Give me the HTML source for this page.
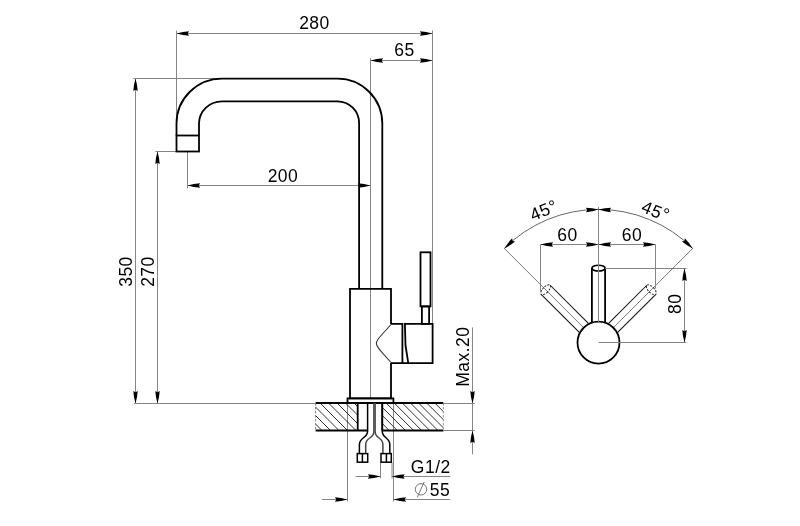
<!DOCTYPE html>
<html><head><meta charset="utf-8"><style>
html,body{margin:0;padding:0;background:#fff;width:800px;height:526px;overflow:hidden;}
svg{display:block;will-change:transform;}
text{font-family:"Liberation Sans",sans-serif;fill:#000;letter-spacing:0.5px;stroke:none;}
</style></head><body>
<svg width="800" height="526" viewBox="0 0 800 526">
<rect x="0" y="0" width="800" height="526" fill="#fff"/>
<line x1="176.5" y1="33.5" x2="432.5" y2="33.5" stroke="#858585" stroke-width="1.0"/>
<path d="M176.5,33.5 Q183,31.6 189.1,31.3 L187.7,33.5 L189.1,35.7 Q183,35.4 176.5,33.5Z" fill="#000" stroke="none"/>
<path d="M432.5,33.5 Q426,35.4 419.9,35.7 L421.3,33.5 L419.9,31.3 Q426,31.6 432.5,33.5Z" fill="#000" stroke="none"/>
<line x1="176.5" y1="30.8" x2="176.5" y2="123.5" stroke="#858585" stroke-width="1.0"/>
<line x1="432.5" y1="30.5" x2="432.5" y2="323.9" stroke="#858585" stroke-width="1.0"/>
<text x="314.5" y="28.8" font-size="17.5" text-anchor="middle">280</text>
<line x1="370.5" y1="60.5" x2="432.5" y2="60.5" stroke="#858585" stroke-width="1.0"/>
<path d="M370.5,60.5 Q377,58.6 383.1,58.3 L381.7,60.5 L383.1,62.7 Q377,62.4 370.5,60.5Z" fill="#000" stroke="none"/>
<path d="M432.5,60.5 Q426,62.4 419.9,62.7 L421.3,60.5 L419.9,58.3 Q426,58.6 432.5,60.5Z" fill="#000" stroke="none"/>
<line x1="370.5" y1="58.2" x2="370.5" y2="398.4" stroke="#858585" stroke-width="1.0"/>
<text x="404.4" y="56.3" font-size="17.5" text-anchor="middle">65</text>
<line x1="135.5" y1="78.5" x2="135.5" y2="403.5" stroke="#858585" stroke-width="1.0"/>
<path d="M135.5,78.5 Q137.4,85 137.7,91.1 L135.5,89.7 L133.3,91.1 Q133.6,85 135.5,78.5Z" fill="#000" stroke="none"/>
<path d="M135.5,403.5 Q133.6,397 133.3,390.9 L135.5,392.3 L137.7,390.9 Q137.4,397 135.5,403.5Z" fill="#000" stroke="none"/>
<line x1="133.5" y1="78.5" x2="222" y2="78.5" stroke="#858585" stroke-width="1.0"/>
<text x="131.9" y="271.5" font-size="17.5" text-anchor="middle" transform="rotate(-90 131.9 271.5)">350</text>
<line x1="157.5" y1="151.5" x2="157.5" y2="403.5" stroke="#858585" stroke-width="1.0"/>
<path d="M157.5,151.5 Q159.4,158 159.7,164.1 L157.5,162.7 L155.3,164.1 Q155.6,158 157.5,151.5Z" fill="#000" stroke="none"/>
<path d="M157.5,403.5 Q155.6,397 155.3,390.9 L157.5,392.3 L159.7,390.9 Q159.4,397 157.5,403.5Z" fill="#000" stroke="none"/>
<line x1="155.5" y1="151.5" x2="187.5" y2="151.5" stroke="#858585" stroke-width="1.0"/>
<text x="153.8" y="271.5" font-size="17.5" text-anchor="middle" transform="rotate(-90 153.8 271.5)">270</text>
<line x1="187.5" y1="185.5" x2="370.5" y2="185.5" stroke="#858585" stroke-width="1.0"/>
<path d="M187.5,185.5 Q194,183.6 200.1,183.3 L198.7,185.5 L200.1,187.7 Q194,187.4 187.5,185.5Z" fill="#000" stroke="none"/>
<path d="M370.5,185.5 Q364,187.4 357.9,187.7 L359.3,185.5 L357.9,183.3 Q364,183.6 370.5,185.5Z" fill="#000" stroke="none"/>
<line x1="187.5" y1="151.5" x2="187.5" y2="188.5" stroke="#858585" stroke-width="1.0"/>
<text x="283" y="182.2" font-size="17.5" text-anchor="middle">200</text>
<line x1="134" y1="403.5" x2="315.6" y2="403.5" stroke="#858585" stroke-width="1.0"/>
<line x1="443.3" y1="403.5" x2="474.6" y2="403.5" stroke="#858585" stroke-width="1.0"/>
<line x1="443.3" y1="430.5" x2="474.6" y2="430.5" stroke="#858585" stroke-width="1.0"/>
<line x1="472.5" y1="327.4" x2="472.5" y2="454.3" stroke="#858585" stroke-width="1.0"/>
<path d="M472.5,403.5 Q470.6,397 470.3,390.9 L472.5,392.3 L474.7,390.9 Q474.4,397 472.5,403.5Z" fill="#000" stroke="none"/>
<path d="M472.5,430.5 Q474.4,437 474.7,443.1 L472.5,441.7 L470.3,443.1 Q470.6,437 472.5,430.5Z" fill="#000" stroke="none"/>
<text x="469.3" y="356.6" font-size="17.5" text-anchor="middle" transform="rotate(-90 469.3 356.6)">Max.20</text>
<line x1="347.5" y1="398.4" x2="347.5" y2="501.5" stroke="#858585" stroke-width="1.0"/>
<line x1="393.5" y1="398.4" x2="393.5" y2="501.5" stroke="#858585" stroke-width="1.0"/>
<line x1="380.5" y1="462.5" x2="380.5" y2="478.5" stroke="#858585" stroke-width="1.0"/>
<line x1="392" y1="462.5" x2="392" y2="478.5" stroke="#858585" stroke-width="1.0"/>
<line x1="355.6" y1="476.5" x2="380.5" y2="476.5" stroke="#858585" stroke-width="1.0"/>
<path d="M380.5,476.5 Q374,478.4 367.9,478.7 L369.3,476.5 L367.9,474.3 Q374,474.6 380.5,476.5Z" fill="#000" stroke="none"/>
<line x1="392" y1="476.5" x2="450.2" y2="476.5" stroke="#858585" stroke-width="1.0"/>
<path d="M392,476.5 Q398.5,474.6 404.6,474.3 L403.2,476.5 L404.6,478.7 Q398.5,478.4 392,476.5Z" fill="#000" stroke="none"/>
<text x="450.8" y="472.6" font-size="17.5" text-anchor="end">G1/2</text>
<line x1="322" y1="499.5" x2="347.5" y2="499.5" stroke="#858585" stroke-width="1.0"/>
<path d="M347.5,499.5 Q341,501.4 334.9,501.7 L336.3,499.5 L334.9,497.3 Q341,497.6 347.5,499.5Z" fill="#000" stroke="none"/>
<line x1="393.5" y1="499.5" x2="450.2" y2="499.5" stroke="#858585" stroke-width="1.0"/>
<path d="M393.5,499.5 Q400,497.6 406.1,497.3 L404.7,499.5 L406.1,501.7 Q400,501.4 393.5,499.5Z" fill="#000" stroke="none"/>
<text x="450.3" y="495.6" font-size="17.5" text-anchor="end">55</text>
<circle cx="421" cy="489.3" r="5.7" stroke="#555" stroke-width="0.8" fill="none"/>
<line x1="424.2" y1="481.8" x2="417.3" y2="497.3" stroke="#555" stroke-width="0.8"/>
<path d="M176.5,135.5 V123.5 A45.5,45 0 0 1 222,78.6 H337.5 A44.8,45 0 0 1 382.3,123.5 V288.8" stroke="#000" stroke-width="1.8" fill="none"/>
<path d="M199,135.5 V123.5 A23,22.2 0 0 1 222,101.3 H337.5 A21.6,22 0 0 1 359.1,123.3 V288.8" stroke="#000" stroke-width="1.8" fill="none"/>
<rect x="176.5" y="135.5" width="22.5" height="16" stroke="#000" stroke-width="1.8" fill="none"/>
<path d="M391,323.9 V288.8 H350 V398.4 H391 V363.1" stroke="#000" stroke-width="1.8" fill="none"/>
<rect x="347.5" y="398.4" width="45.9" height="4.6" stroke="#000" stroke-width="1.8" fill="none"/>
<path d="M391,323.9 H402.4 V363.1 H391" stroke="#000" stroke-width="1.8" fill="none"/>
<path d="M404.9,323.9 H432.6 V363.1 H408.3 L405.5,345.5 Z" stroke="#000" stroke-width="1.8" fill="none"/>
<line x1="402.4" y1="363.1" x2="408.3" y2="363.1" stroke="#000" stroke-width="1.8"/>
<path d="M391,324.5 L380.2,336.5 C377.2,340 376.4,342 376.4,343.3 C376.4,344.8 377.2,346.8 380.2,350.3 L391,362.5" stroke="#333" stroke-width="1.1" fill="none"/>
<rect x="420.5" y="252.3" width="10" height="54.1" stroke="#000" stroke-width="1.8" fill="none"/>
<rect x="421.9" y="306.4" width="7.2" height="17.5" stroke="#000" stroke-width="1.8" fill="none"/>
<clipPath id="hl"><rect x="315.6" y="403" width="42.1" height="27.5"/></clipPath>
<clipPath id="hr"><rect x="382.5" y="403" width="60.8" height="27.5"/></clipPath>
<path clip-path="url(#hl)" d="M269,403 L299,433 M277.5,403 L307.5,433 M286,403 L316,433 M294.5,403 L324.5,433 M303,403 L333,433 M311.5,403 L341.5,433 M320,403 L350,433 M328.5,403 L358.5,433 M337,403 L367,433 M345.5,403 L375.5,433 M354,403 L384,433 M362.5,403 L392.5,433" stroke="#1a1a1a" stroke-width="0.9" fill="none"/>
<path clip-path="url(#hr)" d="M345.48,403 L375.48,433 M353.6,403 L383.6,433 M361.72,403 L391.72,433 M369.84,403 L399.84,433 M377.96,403 L407.96,433 M386.08,403 L416.08,433 M394.2,403 L424.2,433 M402.32,403 L432.32,433 M410.44,403 L440.44,433 M418.56,403 L448.56,433 M426.68,403 L456.68,433 M434.8,403 L464.8,433 M442.92,403 L472.92,433 M451.04,403 L481.04,433" stroke="#1a1a1a" stroke-width="0.9" fill="none"/>
<line x1="315.6" y1="403" x2="443.3" y2="403" stroke="#000" stroke-width="1.8"/>
<line x1="315.6" y1="430.5" x2="367.6" y2="430.5" stroke="#000" stroke-width="1.8"/>
<line x1="382" y1="430.5" x2="443.3" y2="430.5" stroke="#000" stroke-width="1.8"/>
<line x1="357.7" y1="403" x2="357.7" y2="430.5" stroke="#000" stroke-width="1.8"/>
<line x1="382.3" y1="403" x2="382.3" y2="430.5" stroke="#000" stroke-width="1.8"/>
<line x1="315.6" y1="403" x2="315.6" y2="430.5" stroke="#777" stroke-width="0.9" stroke-dasharray="2.5 1.5"/>
<line x1="443.3" y1="403" x2="443.3" y2="430.5" stroke="#888" stroke-width="0.9" stroke-dasharray="2.5 1.5"/>
<path d="M367.6,403 V431 C367.6,438.5 359.4,437 359.4,444.5 V453.5" stroke="#000" stroke-width="1.5" fill="none"/>
<path d="M373.9,403 V431.5 C373.9,439 365.7,437 365.7,444.5 V453.5" stroke="#444" stroke-width="1.5" fill="none"/>
<path d="M375.1,403 V431.5 C375.1,439 382.9,437 382.9,444.5 V453.5" stroke="#444" stroke-width="1.5" fill="none"/>
<path d="M382.2,403 V431 C382.2,438.5 389.8,437 389.8,444.5 V453.5" stroke="#000" stroke-width="1.5" fill="none"/>
<rect x="357.3" y="453.6" width="10.4" height="8.6" stroke="#000" stroke-width="1.5" fill="none"/>
<line x1="362.4" y1="453.6" x2="362.4" y2="462.2" stroke="#000" stroke-width="1.5"/>
<rect x="381" y="453.6" width="10.3" height="8.6" stroke="#000" stroke-width="1.5" fill="none"/>
<line x1="386.4" y1="453.6" x2="386.4" y2="462.2" stroke="#000" stroke-width="1.5"/>
<circle cx="598.5" cy="342.6" r="21" stroke="#000" stroke-width="1.8" fill="none"/>
<line x1="591.9" y1="268.1" x2="591.9" y2="322.66" stroke="#000" stroke-width="1.8"/>
<line x1="605.1" y1="268.1" x2="605.1" y2="322.66" stroke="#000" stroke-width="1.8"/>
<ellipse cx="598.5" cy="268.1" rx="6.6" ry="2.9" stroke="#000" stroke-width="1.6" fill="none"/>
<line x1="598.5" y1="207" x2="598.5" y2="322.66" stroke="#858585" stroke-width="1.0"/>
<line x1="598.5" y1="342.5" x2="686.5" y2="342.5" stroke="#858585" stroke-width="1.0"/>
<line x1="605" y1="268.5" x2="686.5" y2="268.5" stroke="#858585" stroke-width="1.0"/>
<line x1="684.5" y1="268.5" x2="684.5" y2="342.5" stroke="#858585" stroke-width="1.0"/>
<path d="M684.5,268.5 Q686.4,275 686.7,281.1 L684.5,279.7 L682.3,281.1 Q682.6,275 684.5,268.5Z" fill="#000" stroke="none"/>
<path d="M684.5,342.5 Q682.6,336 682.3,329.9 L684.5,331.3 L686.7,329.9 Q686.4,336 684.5,342.5Z" fill="#000" stroke="none"/>
<text x="680.7" y="303.75" font-size="17.5" text-anchor="middle" transform="rotate(-90 680.7 303.75)">80</text>
<line x1="579.83" y1="332.98" x2="541.15" y2="294.3" stroke="#111" stroke-width="1.05"/>
<line x1="588.88" y1="323.93" x2="550.2" y2="285.25" stroke="#111" stroke-width="1.05"/>
<line x1="582.94" y1="327.04" x2="504.1" y2="248.2" stroke="#555" stroke-width="0.8"/>
<ellipse cx="545.68" cy="289.78" rx="2.9" ry="6.4" transform="rotate(45 545.68 289.78)" stroke="#222" stroke-width="0.95" fill="none" stroke-dasharray="2 1.2"/>
<line x1="608.12" y1="323.93" x2="646.8" y2="285.25" stroke="#111" stroke-width="1.05"/>
<line x1="617.17" y1="332.98" x2="655.85" y2="294.3" stroke="#111" stroke-width="1.05"/>
<line x1="614.06" y1="327.04" x2="692.9" y2="248.2" stroke="#555" stroke-width="0.8"/>
<ellipse cx="651.32" cy="289.78" rx="2.9" ry="6.4" transform="rotate(-45 651.32 289.78)" stroke="#222" stroke-width="0.95" fill="none" stroke-dasharray="2 1.2"/>
<line x1="540.5" y1="244.5" x2="540.5" y2="291.5" stroke="#858585" stroke-width="1.0"/>
<line x1="655.5" y1="244.5" x2="655.5" y2="288.5" stroke="#858585" stroke-width="1.0"/>
<line x1="540.5" y1="244.5" x2="655.5" y2="244.5" stroke="#858585" stroke-width="1.0"/>
<path d="M540.5,244.5 Q547,242.6 553.1,242.3 L551.7,244.5 L553.1,246.7 Q547,246.4 540.5,244.5Z" fill="#000" stroke="none"/>
<path d="M598.5,244.5 Q592,246.4 585.9,246.7 L587.3,244.5 L585.9,242.3 Q592,242.6 598.5,244.5Z" fill="#000" stroke="none"/>
<path d="M598.5,244.5 Q605,242.6 611.1,242.3 L609.7,244.5 L611.1,246.7 Q605,246.4 598.5,244.5Z" fill="#000" stroke="none"/>
<path d="M655.5,244.5 Q649,246.4 642.9,246.7 L644.3,244.5 L642.9,242.3 Q649,242.6 655.5,244.5Z" fill="#000" stroke="none"/>
<text x="567.4" y="240.5" font-size="17.5" text-anchor="middle">60</text>
<text x="632" y="240.5" font-size="17.5" text-anchor="middle">60</text>
<path d="M504.31,248.41 A133.2,133.2 0 0 1 692.69,248.41" stroke="#555" stroke-width="0.9" fill="none"/>
<path d="M598.5,209.4 Q592.1,211.61 586.02,212.2 L587.31,209.94 L585.81,207.81 Q591.92,207.81 598.5,209.4Z" fill="#000" stroke="none"/>
<path d="M598.5,209.4 Q605.08,207.81 611.19,207.81 L609.69,209.94 L610.98,212.2 Q604.9,211.61 598.5,209.4Z" fill="#000" stroke="none"/>
<path d="M504.31,248.41 Q507.85,242.64 512.16,238.31 L512.6,240.88 L515.12,241.57 Q510.4,245.45 504.31,248.41Z" fill="#000" stroke="none"/>
<path d="M692.69,248.41 Q686.6,245.45 681.88,241.57 L684.4,240.88 L684.84,238.31 Q689.15,242.64 692.69,248.41Z" fill="#000" stroke="none"/>
<text x="546" y="215.84" font-size="17.5" text-anchor="middle" transform="rotate(-22.5 546 215.84)">45°</text>
<text x="653.22" y="216.76" font-size="17.5" text-anchor="middle" transform="rotate(22.5 653.22 216.76)">45<tspan dx="0.2" dy="-0.9">°</tspan></text>
</svg>
</body></html>
